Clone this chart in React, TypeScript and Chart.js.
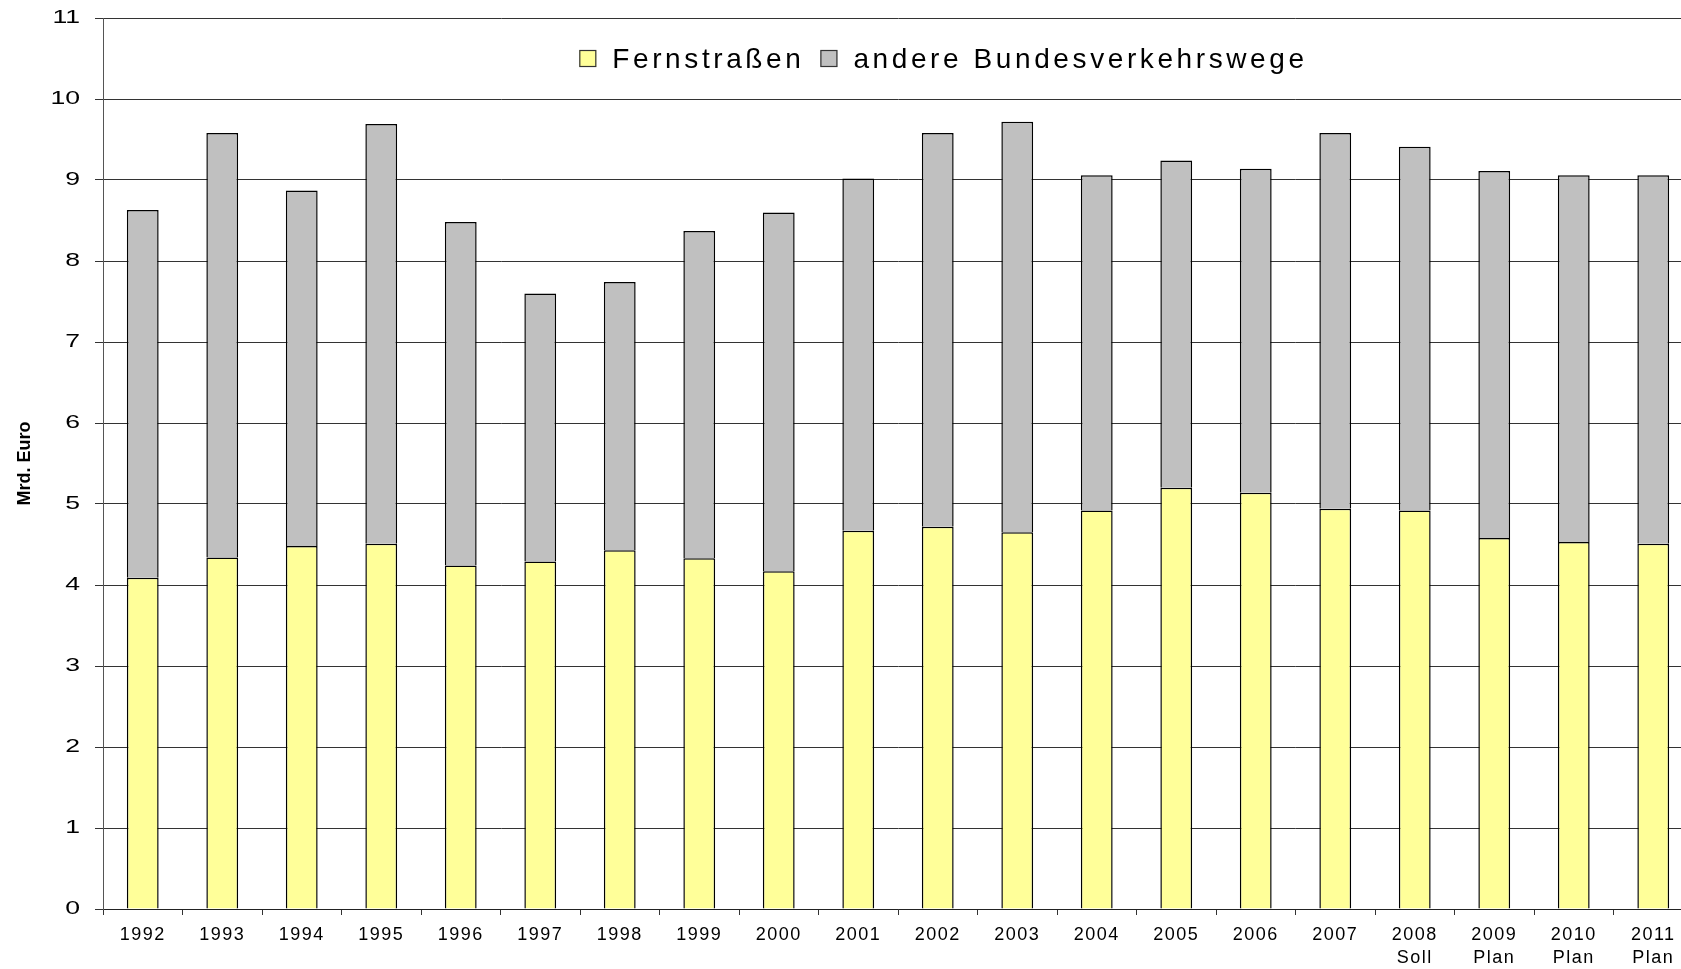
import React, { useEffect, useRef } from 'react';
import { Chart, registerables } from 'chart.js';

Chart.register(...registerables);

const years = ['1992', '1993', '1994', '1995', '1996', '1997', '1998', '1999', '2000', '2001', '2002', '2003', '2004', '2005', '2006', '2007', '2008', '2009', '2010', '2011'];
const subLabels = ['', '', '', '', '', '', '', '', '', '', '', '', '', '', '', '', 'Soll', 'Plan', 'Plan', 'Plan'];
const fernstrassen = [4.09, 4.34, 4.48, 4.51, 4.24, 4.29, 4.43, 4.33, 4.17, 4.67, 4.72, 4.65, 4.92, 5.2, 5.14, 4.94, 4.92, 4.58, 4.53, 4.51];
const andereVerkehrswege = [4.54, 5.24, 4.39, 5.18, 4.24, 3.31, 3.31, 4.04, 4.43, 4.35, 4.86, 5.07, 4.14, 4.04, 4.0, 4.64, 4.49, 4.53, 4.53, 4.55];
const seriesNames = ['Fernstraßen', 'andere Bundesverkehrswege'];
const yTicks = [0, 1, 2, 3, 4, 5, 6, 7, 8, 9, 10, 11];
const yTitle = 'Mrd. Euro';

const FONT = '"Liberation Sans", Arial, Helvetica, sans-serif';

function patchLabels(scale: any, spacing: string, stretch: number, anchor: (s: any) => number) {
  if (!scale || scale.__patched) return;
  scale.__patched = true;
  const orig = scale.drawLabels;
  scale.drawLabels = function (area: any) {
    const ctx = this.ctx;
    ctx.save();
    (ctx as any).letterSpacing = spacing;
    if (stretch !== 1) {
      const ax = anchor(this);
      ctx.translate(ax, 0);
      ctx.scale(stretch, 1);
      ctx.translate(-ax, 0);
    }
    orig.call(this, area);
    ctx.restore();
  };
}

const labelPatchPlugin = {
  id: 'labelPatch',
  beforeDraw(chart: any) {
    patchLabels(chart.scales.x, '1.5px', 1, () => 0);
    patchLabels(chart.scales.y, '0px', 1.4, (s: any) => s.right - 8 - 15);
  },
};

const insideLegendPlugin = {
  id: 'insideLegend',
  afterDraw(chart: any) {
    const ctx = chart.ctx;
    const area = chart.chartArea;
    ctx.save();
    ctx.font = '28px ' + FONT;
    (ctx as any).letterSpacing = '3.6px';
    ctx.textAlign = 'left';
    ctx.textBaseline = 'alphabetic';
    const box = 17;
    const gap = 16;
    const itemGap = 16;
    const items = chart.data.datasets.map((ds: any) => ({
      text: ds.label,
      color: ds.backgroundColor,
      w: ctx.measureText(ds.label).width,
    }));
    const total = items.reduce((s: number, it: any, i: number) => s + box + gap + it.w + (i ? itemGap : 0), 0);
    let x = area.left + area.width * 0.5286 - total / 2;
    const boxTop = area.top + 32;
    const baseline = area.top + 50;
    items.forEach((it: any) => {
      ctx.fillStyle = it.color;
      ctx.fillRect(x, boxTop, box, box);
      ctx.lineWidth = 1.2;
      ctx.strokeStyle = '#333';
      ctx.strokeRect(x + 0.5, boxTop + 0.5, box - 1, box - 1);
      x += box + gap;
      ctx.fillStyle = '#000';
      ctx.fillText(it.text, x, baseline);
      x += it.w + itemGap;
    });
    ctx.restore();
  },
};

export default function App() {
  const ref = useRef<HTMLCanvasElement | null>(null);

  useEffect(() => {
    if (!ref.current) return;
    Chart.defaults.font.family = FONT;
    Chart.defaults.color = '#000';
    const labels = years.map((y, i) => (subLabels[i] ? [y, subLabels[i]] : y));
    const chart = new Chart(ref.current, {
      type: 'bar',
      data: {
        labels,
        datasets: [
          {
            label: seriesNames[0],
            data: fernstrassen,
            backgroundColor: '#FFFF99',
            borderColor: '#000',
            borderWidth: 1.5,
            barPercentage: 0.4,
            categoryPercentage: 1,
          },
          {
            label: seriesNames[1],
            data: andereVerkehrswege,
            backgroundColor: '#C0C0C0',
            borderColor: '#000',
            borderWidth: 1.5,
            barPercentage: 0.4,
            categoryPercentage: 1,
          },
        ],
      },
      options: {
        responsive: false,
        animation: false,
        devicePixelRatio: 1,
        layout: { padding: { top: 18, right: 7, left: 0, bottom: 0 } },
        plugins: {
          legend: { display: false },
          tooltip: { enabled: false },
        },
        scales: {
          x: {
            stacked: true,
            offset: true,
            grid: {
              display: true,
              offset: true,
              drawOnChartArea: false,
              drawTicks: true,
              tickLength: 6,
              color: '#333',
            },
            border: { display: true, color: '#222', width: 1 },
            ticks: {
              autoSkip: false,
              maxRotation: 0,
              minRotation: 0,
              padding: 9,
              color: '#000',
              font: { size: 18, lineHeight: 1.25 },
            },
            afterFit: (s: any) => {
              s.height = 60;
            },
          },
          y: {
            stacked: true,
            min: 0,
            max: 11,
            afterBuildTicks: (s: any) => {
              s.ticks = yTicks.map((v) => ({ value: v }));
            },
            grid: {
              color: '#333',
              lineWidth: 1,
              drawTicks: true,
              tickLength: 8,
            },
            border: { display: true, color: '#555', width: 1 },
            ticks: {
              padding: 15,
              color: '#000',
              font: { size: 19 },
            },
            title: {
              display: true,
              text: yTitle,
              color: '#000',
              font: { size: 18, weight: 'bold' },
              padding: { top: 14, bottom: 0 },
            },
            afterFit: (s: any) => {
              s.width = 103;
              s.paddingTop = 0;
              s.paddingBottom = 0;
            },
          },
        },
      },
      plugins: [labelPatchPlugin, insideLegendPlugin],
    });
    return () => chart.destroy();
  }, []);

  return (
    <div
      style={{
        position: 'fixed',
        left: 0,
        top: 0,
        width: 1681,
        height: 969,
        overflow: 'hidden',
        background: '#fff',
      }}
    >
      <canvas ref={ref} width={1700} height={969} style={{ display: 'block', width: 1700, height: 969 }} />
    </div>
  );
}
